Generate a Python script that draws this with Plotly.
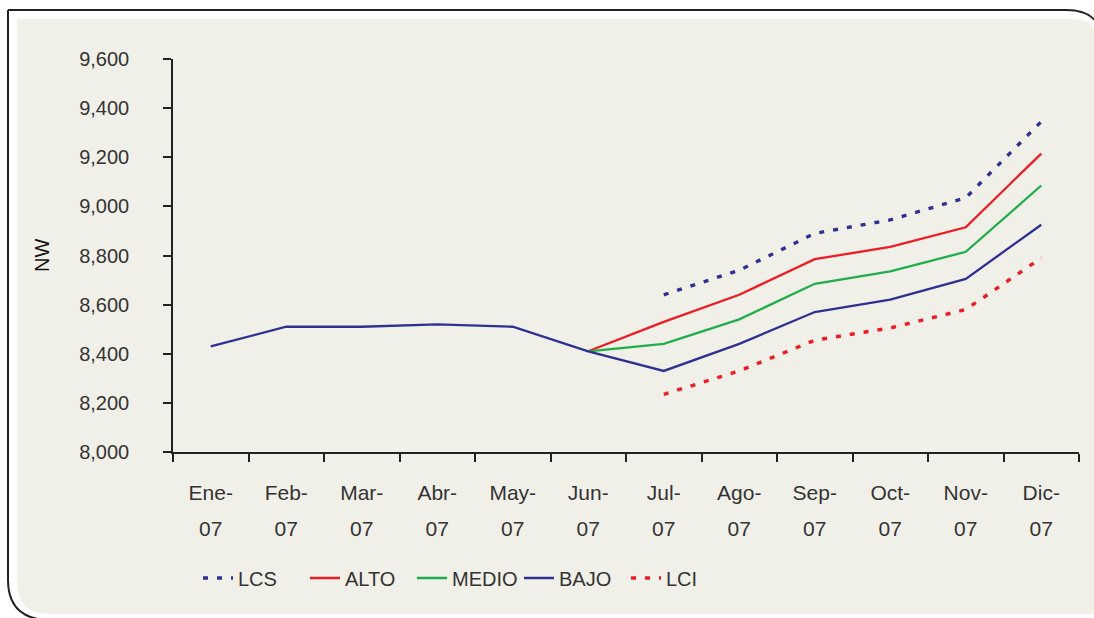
import plotly.graph_objects as go

months = ["Ene-07", "Feb-07", "Mar-07", "Abr-07", "May-07", "Jun-07",
          "Jul-07", "Ago-07", "Sep-07", "Oct-07", "Nov-07", "Dic-07"]
month_top = ["Ene-", "Feb-", "Mar-", "Abr-", "May-", "Jun-",
             "Jul-", "Ago-", "Sep-", "Oct-", "Nov-", "Dic-"]
month_bottom = ["07"] * 12

lcs = [None, None, None, None, None, None, 8640, 8740, 8890, 8945, 9035, 9345]
alto = [None, None, None, None, None, 8410, 8530, 8640, 8785, 8835, 8915, 9215]
medio = [None, None, None, None, None, 8410, 8440, 8540, 8685, 8735, 8815, 9085]
bajo = [8430, 8510, 8510, 8520, 8510, 8410, 8330, 8440, 8570, 8620, 8705, 8925]
lci = [None, None, None, None, None, None, 8235, 8330, 8455, 8505, 8580, 8790]

y_ticks = [8000, 8200, 8400, 8600, 8800, 9000, 9200, 9400, 9600]

BLUE = "#2e3192"
RED = "#ed1c24"
GREEN = "#1fae4b"
FONT = "Liberation Sans"
TXT = "#333333"

W, H = 1094, 618
ML, MR, MT, MB = 173, 15, 59, 166
PW = W - ML - MR
PH = H - MT - MB


def px(x):
    return (x - ML) / PW


def py(y):
    return (H - MB - y) / PH


def path(cmds):
    out = []
    for c in cmds:
        if c[0] in ("M", "L"):
            out.append(f"{c[0]}{px(c[1]):.5f},{py(c[2]):.5f}")
        elif c[0] == "Q":
            out.append(f"Q{px(c[1]):.5f},{py(c[2]):.5f} {px(c[3]):.5f},{py(c[4]):.5f}")
        elif c[0] == "Z":
            out.append("Z")
    return " ".join(out)


fig = go.Figure()

specs = [
    ("LCS", lcs, BLUE, "5px,9px", 3.4),
    ("ALTO", alto, RED, None, 2.3),
    ("MEDIO", medio, GREEN, None, 2.3),
    ("BAJO", bajo, BLUE, None, 2.3),
    ("LCI", lci, RED, "5px,9px", 3.4),
]
for name, vals, col, dash, w in specs:
    fig.add_trace(go.Scatter(
        x=months, y=vals, name=name, mode="lines",
        line=dict(color=col, width=w, dash=dash),
        connectgaps=False, hoverinfo="skip",
    ))

# helper trace so the second (label) axis knows the categories
fig.add_trace(go.Scatter(x=months, y=[None] * 12, xaxis="x2", mode="none",
                         showlegend=False, hoverinfo="skip"))

panel = path([("M", 17, 19), ("L", 1074, 19), ("Q", 1096, 19, 1096, 40),
              ("L", 1096, 614), ("L", 50, 614),
              ("Q", 17, 614, 17, 582), ("Z",)])
border = path([("M", 8, 10), ("L", 1066, 10), ("Q", 1094, 10, 1100, 30),
               ("M", 8, 10), ("L", 8, 580), ("Q", 8, 617, 45, 620), ("L", 1100, 620)])

fig.update_layout(
    width=W, height=H,
    margin=dict(l=ML, r=MR, t=MT, b=MB),
    paper_bgcolor="white",
    plot_bgcolor="#f1f0e8",
    font=dict(family=FONT, size=20, color=TXT),
    showlegend=True,
    legend=dict(
        orientation="h", x=px(198), y=py(578), xanchor="left", yanchor="middle",
        bgcolor="rgba(0,0,0,0)", font=dict(size=20, color=TXT),
        entrywidth=62, entrywidthmode="pixels", itemwidth=30,
    ),
    shapes=[
        dict(type="path", xref="paper", yref="paper", path=panel,
             fillcolor="#f1f0e8", line=dict(width=0), layer="below"),
        dict(type="path", xref="paper", yref="paper", path=border,
             line=dict(color="#222222", width=2), layer="below"),
    ],
    xaxis=dict(
        type="category", categoryorder="array", categoryarray=months,
        range=[-0.5, 11.5], tickson="boundaries",
        tickmode="array", tickvals=months, ticktext=month_top,
        ticks="outside", ticklen=8, tickwidth=1.5, tickcolor="#222222",
        showline=True, linecolor="#222222", linewidth=1.5,
        showgrid=False, zeroline=False, ticklabelstandoff=21,
        tickfont=dict(size=21, color=TXT),
    ),
    xaxis2=dict(
        type="category", categoryorder="array", categoryarray=months,
        overlaying="x", side="bottom", anchor="y",
        range=[-0.5, 11.5], tickmode="array", tickvals=months,
        ticktext=month_bottom, ticks="", showline=False, showgrid=False,
        zeroline=False, ticklabelstandoff=62, tickfont=dict(size=21, color=TXT),
    ),
    yaxis=dict(
        range=[8000, 9600], tickmode="array", tickvals=y_ticks,
        ticktext=[f"{v:,}" for v in y_ticks],
        ticks="outside", ticklen=8, tickwidth=1.5, tickcolor="#222222",
        showline=True, linecolor="#222222", linewidth=1.5,
        showgrid=False, zeroline=False, ticklabelstandoff=30,
        tickfont=dict(size=20, color=TXT),
    ),
    annotations=[
        dict(text="NW", xref="paper", yref="paper", x=px(42), y=py(256),
             xanchor="center", yanchor="middle", textangle=-90, showarrow=False,
             font=dict(size=20, color="#111111")),
    ],
)

fig.write_html("out.html", config={"displayModeBar": False},
               post_script="document.body.style.margin='0';document.body.style.overflow='hidden';")
